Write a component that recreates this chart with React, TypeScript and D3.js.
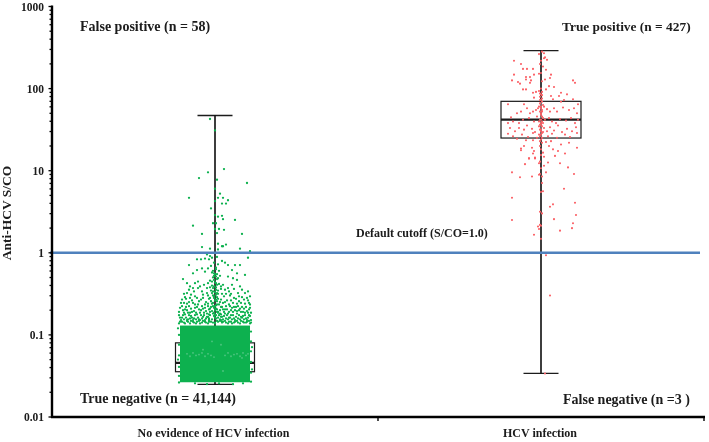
import React from "react";
import * as d3 from "d3";

const categories = ["No evidence of HCV infection", "HCV infection"];
const yTickLabels = [1000, 100, 10, 1, 0.1, 0.01];

// box statistics: [min, q1, median, q3, max] in S/CO
const greenBox = [0.025, 0.0356, 0.0456, 0.08, 47];
const redBox = [0.034, 25, 42, 70, 290];
const cutoff = 1;
// the solid mass of negative samples: S/CO span and jitter half width
const greenMass = [0.0265, 0.13];
const greenMassJitter = 35;

// scatter: flat pairs [jitter, log10(S/CO) * 100]
const greenPoints = [
  -5,163, 0,149, 9,102, -7,98, -16,91, 2,89, 32,85, 0,78, 5,72, 3,67, 8,67, 13,64, -26,67, 0,63, 7,60, 11,60, -4,54, 0,46, 3,44, 7,45, 8,41, 20,40, -2,36, 1,36, -22,33, 0,29, 4,29, 9,28, -13,23, 2,24, 27,23, 3,11, 11,10, 7,8, -13,7, 25,5, -5,5, 3,4,
  8,8, 35,2, -8,-2, -5,-4, -18,-8, -14,-8, -10,-7, -6,-8, 7,-10, 10,-12, 13,-15, -26,-15, -7,-19, -13,-19, -18,-21, -22,-25, -10,-23, 30,-27, 33,-6, 25,-15, 20,-15, 17,-21, 22,-25, 13,-29, 18,-31, -32,-32, -28,-37, -25,-41, -17,-35, -20,-37, -22,-43, -17,-43, -28,-49, -24,-51, -20,-53, -13,-47, -8,-43, -7,-37, 8,-39, 10,-45, 13,-43, 17,-39, 22,-33, 25,-41, 30,-49, 33,-47, 35,-53,
  -3,-6, 2,-5, -1,-12, 3,-14, -4,-16, 1,-18, 4,-22, -3,-24, 0,-26, 5,-28, -2,-30, 2,-32, -5,-34, 0,-36, 4,-38, -3,-40, 1,-42, 6,-44, -4,-46, 0,-48, 3,-50, -2,-52, 2,-54, -6,-56, 0,-58, 5,-60, -3,-62, 1,-64, 7,-66, -5,-68, 0,-70, 3,-72, -2,-74, 4,-76, -7,-78, 1,-80, 6,-82, -4,-84, 0,-86,
  -1,-25, 1,-29, -1,-33, 1,-37, -1,-41, 1,-45, -2,-47, 2,-49, -1,-53, 1,-57, -2,-61, 2,-63, 0,-65, -1,-67, 2,-69, -3,-71, 3,-73, 0,-75, -1,-77, 3,-79, -3,-81, 2,-83, 0,-85,
  1,-20, -2,-22, 2,-26, -1,-28, 3,-31, -3,-35, 2,-39, -2,-43, 3,-46, -3,-49, 1,-51, -1,-55, 3,-56, -4,-59, 2,-59, -2,-65, 4,-63, -4,-66, 1,-68, 5,-70, -5,-72, 2,-72, -1,-73, 5,-74, -5,-76, 1,-76, 6,-78, -6,-80, 0,-79, 5,-81, -6,-83, 3,-84, 7,-84, -2,-85,
  -21,-47, -26,-45, -15,-41, -11,-39, -5,-42, 6,-41, 14,-47, 19,-44, 23,-49, 27,-45, -12,-51, -8,-49, 7,-50, 11,-50, 16,-50, -31,-50,
  -33,-57, -31,-61, -29,-56, -26,-60, -23,-58, -20,-63, -16,-59, -12,-55, -9,-60, -7,-52, 9,-53, 12,-58, 15,-52, 18,-61, 21,-56, 24,-59, 27,-54, 30,-62, 33,-58, 35,-63,
  -30,-54, -25,-55, -18,-55, -14,-57, -10,-63, -5,-55, 6,-57, 8,-61, 14,-63, 19,-55, 24,-53, 29,-57, 34,-61, -34,-61, -28,-62, -22,-61, -17,-63, -7,-62, 10,-60, 16,-58, 22,-62, 26,-61, 32,-55,
  -35,-67, -32,-70, -29,-66, -27,-73, -24,-68, -21,-71, -18,-66, -15,-73, -12,-68, -9,-71, -7,-65, 8,-69, 11,-65, 14,-72, 17,-67, 20,-70, 23,-65, 26,-72, 29,-68, 32,-71, 35,-67,
  -33,-65, -30,-69, -26,-65, -23,-72, -20,-67, -16,-69, -13,-65, -10,-67, -8,-74, -6,-69, 6,-66, 9,-72, 12,-69, 15,-65, 18,-72, 21,-66, 24,-70, 27,-66, 30,-73, 34,-69, 36,-73, -36,-72, -31,-73, -28,-70, -25,-73, -19,-73, -14,-70, -11,-73, 10,-69, 13,-74, 16,-70, 19,-66, 22,-71, 25,-68, 28,-72, 31,-66, 33,-73,
  -36,-76, -33,-79, -30,-75, -27,-81, -24,-77, -21,-80, -18,-75, -15,-82, -12,-78, -9,-80, -6,-75, 7,-78, 10,-74, 13,-81, 16,-76, 19,-80, 22,-74, 25,-81, 28,-77, 31,-80, 34,-76, 36,-82,
  -35,-79, -32,-76, -29,-79, -26,-76, -23,-79, -20,-76, -17,-79, -14,-76, -11,-76, -8,-78, -6,-81, 6,-75, 9,-77, 12,-76, 15,-79, 18,-76, 21,-78, 24,-76, 27,-79, 30,-76, 33,-79, 35,-77, -34,-82, -31,-81, -28,-82, -25,-80, -22,-82, -19,-81, -16,-81, -13,-80, -10,-82, 8,-81, 11,-80, 14,-79, 17,-81, 20,-82, 23,-80, 26,-78, 29,-81, 32,-82,
  -35,-84, -31,-85, -28,-83, -25,-86, -22,-84, -19,-86, -16,-83, -13,-85, -10,-84, -7,-86, 7,-85, 10,-83, 13,-86, 16,-84, 19,-85, 22,-83, 25,-86, 28,-84, 31,-85, 34,-83,
  -36,-86, -33,-84, -30,-86, -27,-84, -24,-83, -21,-85, -18,-84, -15,-86, -12,-83, -9,-85, -6,-84, 5,-83, 8,-84, 11,-85, 14,-84, 17,-86, 20,-84, 23,-85, 26,-83, 29,-85, 32,-84, 35,-86, 36,-85,
  -36,-100, 36,-96, -36,-112, 36,-108, -36,-125, 36,-120, -36,-139, 36,-133, -36,-150, 36,-146, -37,-92, 37,-115, -37,-130, 37,-142, -36,-158, 36,-157, -20,-159, -8,-160, 4,-159, 18,-160, 28,-159,
];
const greenLightSpecks = [
  -28,-123, -25,-126, -22,-122, -19,-125, -16,-124, -13,-122, -10,-126, -7,-123, -4,-125, -1,-127, 10,-125, 13,-122, 16,-126, 19,-124, 22,-123, 25,-126, 28,-122, 31,-125, 33,-123, 27,-128, -3,-108, 6,-112, -12,-118, 8,-144,
];
const redPoints = [
  -27,234, -20,230, -18,224, -14,224, -8,224, 3,237, 6,235, 0,234, 2,227, -2,242, 1,245, 3,243, 4,238, -1,230,
  -27,217, -29,210, -23,208, -21,206, -15,214, -15,211, -11,214, -10,210, -11,207, -7,217, -2,218, 0,219, 5,223, 10,217, 9,213, 4,211, 1,209, 5,199, 8,203, 13,202, 32,210, 34,207, -18,199, -15,199, -8,195, -5,196, -2,197, 0,193, -1,190, 1,188, -7,189, 10,191, 12,187, 18,191, 20,195, 26,193, 32,187, -33,181, -17,181, 37,181, 20,184, 23,186, 0,200, 1,196, -1,194, 0,186, 1,184, -1,182,
  -30,165, -24,170, -20,172, -14,176, -11,170, -8,172, -5,174, -3,176, 3,178, 6,175, 9,172, 13,176, 16,172, 22,177, 28,174, 33,176, 36,170, -33,158, -28,160, -22,158, -18,162, -12,164, -7,160, -4,166, 0,170, 1,166, -1,162, 2,158, 4,162, 8,164, 11,160, 15,158, 19,163, 25,161, 30,164, 34,158, 37,162,
  -31,152, -26,148, -22,152, -17,150, -14,155, -9,151, -6,147, -2,154, 0,150, 1,146, -1,142, 3,152, 6,148, 9,153, 13,149, 17,155, 21,147, 26,151, 31,148, 35,153, -33,145, -28,142, -24,139, -19,144, -13,141, -8,146, -4,140, 0,156, 7,142, 11,145, 16,140, 24,144, 29,141, 36,146,
  1,174, -1,172, 0,168, 2,164, -2,160, 0,158, 1,154, -1,150, 2,147, -2,144, 0,144, 1,140, -1,136, 2,180, -2,178, 0,176, 1,192, -1,186, 0,178, 1,172, 0,162, 1,160, -1,156, 0,148,
  0,138, 1,134, -1,130, 0,126, -15,137, -8,137, 5,135, 10,136, -20,127, -17,130, -9,128, -7,124, 8,130, 12,126, 17,124, 36,128, 20,132, -12,115, -6,116, 2,122, 0,119, 14,118, 24,121, 28,134,
  -20,125, -8,121, 3,117, -6,115, -12,115, -1,111, -2,109, 7,110, -16,108, 19,109, 3,106, 0,103, 27,104, -29,98, 5,98, -1,96, -2,95, 33,96, -21,92, -9,93, 1,93, 1,85, 23,78, 2,75, 0,74, -29,67, 34,61, 12,59, 9,56, -1,50, 1,48, 35,46, 13,41, -29,40, 32,36, -1,34, -3,32, 0,33, -2,29, 31,30, 19,27, -7,22, 0,17, 5,-3, 9,-52, 4,-147,
];

const W = 709, H = 442;
const x = d3.scaleBand<string>().domain(categories).range([52, 704]);
const y = d3.scaleLog().domain([0.01, 1000]).range([417, 6.5]);
const jitter = d3.scaleLinear().domain([-100, 100]).range([-100, 100]);
const center = (c: string) => (x(c) as number) + x.bandwidth() / 2;
const pairs = (a: number[]) => d3.range(0, a.length, 2).map((i) => [a[i], 10 ** (a[i + 1] / 100)]);
const FONT = "'Liberation Serif', 'Times New Roman', serif";
const INK = "#1a1a1a";

function Box({ c, s, half, cap }: { c: string; s: number[]; half: number; cap: number }) {
  const cx = center(c);
  const [mn, q1, md, q3, mx] = s;
  return (
    <g stroke={INK} fill="none">
      <line x1={cx} x2={cx} y1={y(mn)} y2={y(mx)} strokeWidth={1.2} />
      <line x1={cx - cap} x2={cx + cap} y1={y(mn)} y2={y(mn)} strokeWidth={1.3} />
      <line x1={cx - cap} x2={cx + cap} y1={y(mx)} y2={y(mx)} strokeWidth={1.3} />
      <rect x={cx - half} width={half * 2} y={y(q3)} height={y(q1) - y(q3)} strokeWidth={1.2} fill="#fff" />
      <line x1={cx - half} x2={cx + half} y1={y(md)} y2={y(md)} strokeWidth={2.2} />
      <line x1={cx} x2={cx} y1={y(mn)} y2={y(mx)} strokeWidth={1.2} />
    </g>
  );
}

export default function App() {
  const [c0, c1] = categories;
  const cx0 = center(c0), cx1 = center(c1);
  const massTop = y(greenMass[1]), massBottom = y(greenMass[0]);
  const mj = jitter(greenMassJitter);
  return (
    <svg width={W} height={H} style={{ position: "absolute", left: 0, top: 0, background: "#fff" }} fontFamily={FONT} fontWeight="bold" fill={INK}>
      <defs>
        <filter id="soft" x="0" y="0" width="100%" height="100%">
          <feGaussianBlur stdDeviation={0.35} />
        </filter>
      </defs>
      <g filter="url(#soft)">
        <rect width={W} height={H} fill="#fff" />
        <Box c={c0} s={greenBox} half={39.5} cap={17.5} />
        <Box c={c1} s={redBox} half={40} cap={17.5} />

        <rect x={cx0 - mj} width={mj * 2} y={massTop} height={massBottom - massTop} fill="#0db14f" />
        <g fill="#0db14f">
          {pairs(greenPoints).map(([j, v], i) => <circle key={i} cx={cx0 + jitter(j)} cy={y(v)} r={1.15} />)}
        </g>
        <g fill="#4fc581">
          {pairs(greenLightSpecks).map(([j, v], i) => <circle key={i} cx={cx0 + jitter(j)} cy={y(v)} r={0.9} />)}
        </g>
        <g fill="#fb5f65">
          {pairs(redPoints).map(([j, v], i) => <circle key={i} cx={cx1 + jitter(j)} cy={y(v)} r={1.05} />)}
        </g>

        <line x1={50} x2={700} y1={y(cutoff)} y2={y(cutoff)} stroke="#4f81bd" strokeWidth={2.4} />

        <line x1={52} x2={52} y1={y(1000) - 1} y2={418} stroke="#000" strokeWidth={2.4} />
        <line x1={51} x2={705} y1={417} y2={417} stroke="#000" strokeWidth={2.4} />
        <line x1={378} x2={378} y1={417} y2={421} stroke="#000" strokeWidth={1.4} />
        <line x1={704} x2={704} y1={417} y2={421} stroke="#000" strokeWidth={1.4} />
        {y.ticks().map((t, i) => (
          <line key={i} x1={yTickLabels.includes(t) ? 48.5 : 49.5} x2={52} y1={y(t)} y2={y(t)} stroke="#000" strokeWidth={1.3} />
        ))}
        <g textAnchor="end" fontSize={11.5}>
          {yTickLabels.map((t) => <text key={t} x={44} y={y(t) + 4}>{t}</text>)}
        </g>
        <text transform="translate(11,213) rotate(-90)" textAnchor="middle" fontSize={13.5}>Anti-HCV S/CO</text>

        <g textAnchor="middle" fontSize={12}>
          {categories.map((c, i) => <text key={c} x={i === 0 ? 213.5 : 540} y={437}>{c}</text>)}
        </g>
        <g fontSize={14}>
          <text x={80} y={31}>False positive (n = 58)</text>
          <text x={562} y={31} fontSize={13.4}>True positive (n = 427)</text>
          <text x={80} y={403}>True negative (n = 41,144)</text>
          <text x={563} y={404}>False negative (n =3 )</text>
        </g>
        <text x={356} y={237} fontSize={12}>Default cutoff (S/CO=1.0)</text>
      </g>
    </svg>
  );
}
